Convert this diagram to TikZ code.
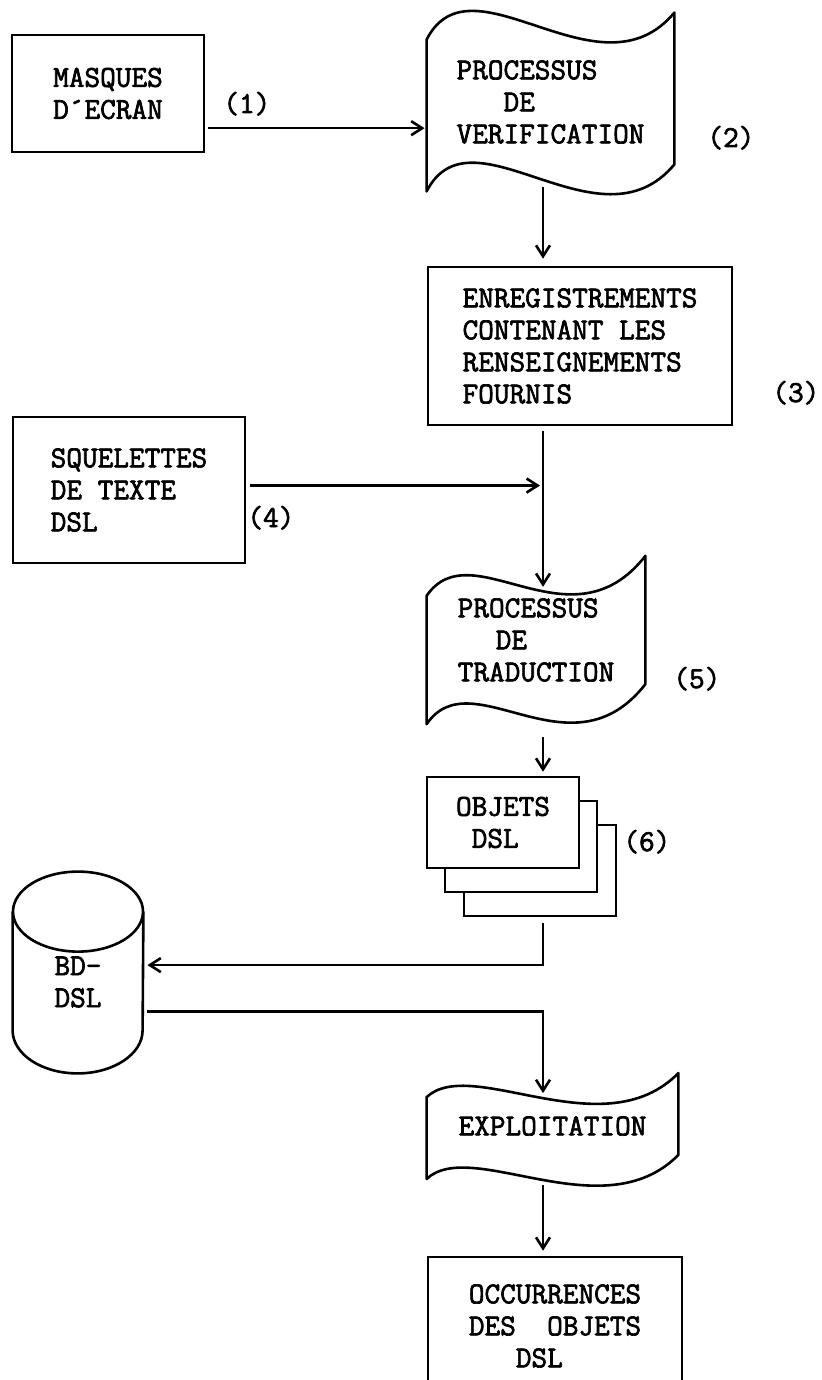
\documentclass[tikz,border=0pt]{standalone}
\usepackage{fontspec}
\newfontfamily\typewriter{Latin Modern Mono}[FakeBold=2.2]
\usetikzlibrary{arrows.meta,calc,shadows}
\newcommand{\diagfont}{\typewriter\bfseries\fontsize{15.2}{16}\selectfont}
% punched tape outline round a node: #1 node, #2 skew, #3 rise, #4 dip
\newcommand{\tapeoutline}[4]{%
  \draw[outline] ($(#1.north west)+(0,#2/2)$) .. controls +(45,-#3) and +(-75,#4) .. ($(#1.north east)+(0,-#2/2)$)
    -- ($(#1.south east)+(0,-#2/2)$) .. controls +(-75,#4) and +(45,-#3) .. ($(#1.south west)+(0,#2/2)$) -- cycle;}
\tikzset{
  boxnode/.style  = {draw, fill=white, line width=1.3pt, rectangle, align=left,
                     font=\diagfont, inner sep=0pt},
  tapenode/.style = {rectangle, align=left, font=\diagfont, inner sep=0pt},
  outline/.style  = {line width=1.3pt, line join=round},
  sheets/.style   = {copy shadow={shadow xshift=18.5pt, shadow yshift=-24pt,
                                  draw=black, fill=white, line width=1.3pt},
                     copy shadow={shadow xshift=9pt, shadow yshift=-12pt,
                                  draw=black, fill=white, line width=1.3pt}},
  flow/.style     = {-{Straight Barb[length=5.5pt,width=7pt,line width=1.3pt]}, line width=1.2pt},
  tag/.style      = {font=\diagfont, inner sep=0pt, anchor=base west}
}
\begin{document}
\begin{tikzpicture}[x=0.5pt,y=-0.5pt]
  \useasboundingbox (0,0) rectangle (821,1380);
  \coordinate (col) at (543,0);

  \node[boxnode, minimum width=96pt, minimum height=58.5pt] (masques) at (108,93.5)
        {MASQUES\\D´ECRAN};
  \node[tapenode, minimum width=123.5pt, minimum height=75.5pt] (verif) at (550.5,102)
        {PROCESSUS\\~~~DE\\VERIFICATION};
  \node[boxnode, minimum width=152pt, minimum height=79pt] (enreg) at (580,346)
        {ENREGISTREMENTS\\CONTENANT LES\\RENSEIGNEMENTS\\FOURNIS};
  \node[boxnode, minimum width=116pt, minimum height=73pt] (squel) at (129,490)
        {SQUELETTES\\DE TEXTE\\DSL};
  \node[tapenode, minimum width=109pt, minimum height=63.75pt] (trad) at (536,640)
        {PROCESSUS\\\hspace*{19pt}DE\\TRADUCTION};
  \node[boxnode, sheets, minimum width=76pt, minimum height=45.5pt] (objets) at (503,822.5)
        {OBJETS\\~DSL};
  \node[tapenode, minimum width=65pt, minimum height=70pt] (bd) at (78,982) {BD-\\DSL};
  \node[tapenode, minimum width=125.5pt, minimum height=40.5pt] (expl) at (552.5,1126)
        {EXPLOITATION};
  \node[boxnode, minimum width=127pt, minimum height=69pt] (occur) at (555,1326)
        {OCCURRENCES\\DES~~OBJETS\\~~~DSL};

  \tapeoutline{verif}{27}{88}{90}
  \tapeoutline{trad}{40}{66}{96}
  \tapeoutline{expl}{24}{42}{76}
  % data base
  \draw[outline] (bd.north) ellipse [x radius=32.5pt, y radius=20pt];
  \draw[outline] (bd.north west) -- ($(bd.south west)+(0,-22)$)
        arc[start angle=180, end angle=360, x radius=32.5pt, y radius=21.5pt] -- (bd.north east);

  \node[tag] (n1) at (223,113) {(1)};
  \node[tag] (n2) at (707,147) {(2)};
  \node[tag] (n3) at (772,402) {(3)};
  \node[tag] (n4) at (247,527) {(4)};
  \node[tag] (n5) at (673,688) {(5)};
  \node[tag] (n6) at (623,851) {(6)};

  \path ($(masques.north east)!0.79!(masques.south east)$) coordinate (out1);
  \path ($(squel.north east)!0.47!(squel.south east)$) coordinate (out4);
  \draw[flow, shorten <=1.5pt, shorten >=1pt] (out1) -- (out1 -| verif.west);
  \draw[flow, shorten >=3.5pt] ($(verif.south -| col)+(0,9)$) -- (enreg.north -| col);
  \draw[flow, shorten <=2.5pt] (enreg.south -| col) -- ($(trad.north -| col)+(0,11)$);
  \draw[flow, shorten <=2pt, shorten >=1.5pt] (out4) -- (out4 -| col);
  \draw[flow, shorten >=2pt] ($(trad.south -| col)+(0,33)$) -- (objets.north -| col);
  \draw[flow, shorten >=2pt] ($(objets.south -| col)+(0,54)$)
        |- ($(bd.north east)!0.38!(bd.south east)$);
  \draw[flow, shorten <=2pt] ($(bd.north east)!0.71!(bd.south east)$)
        -| ($(expl.north -| col)+(0,8)$);
  \draw[flow, shorten >=2.5pt] ($(expl.south -| col)+(0,18)$) -- (occur.north -| col);
\end{tikzpicture}
\end{document}
